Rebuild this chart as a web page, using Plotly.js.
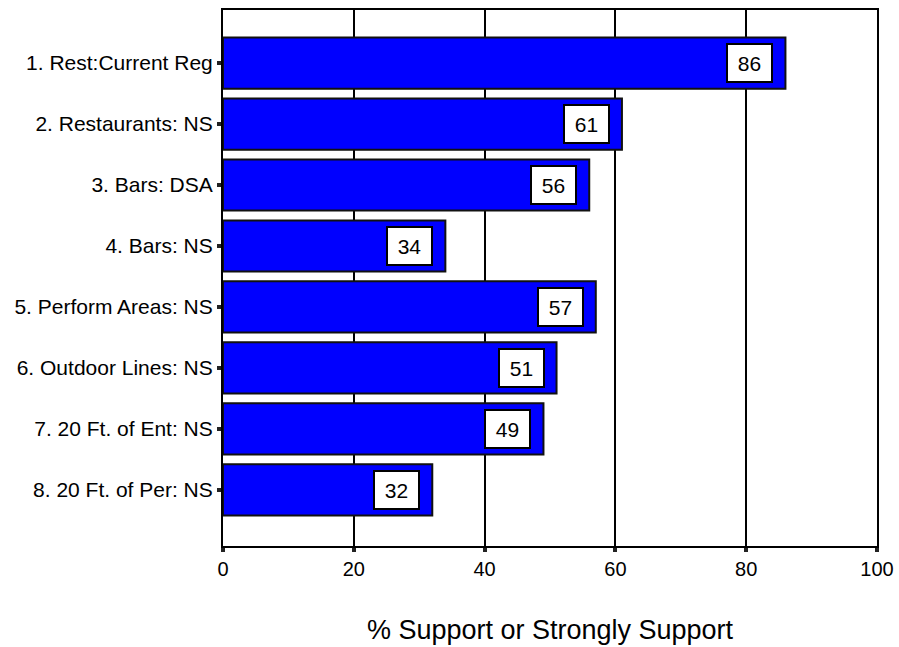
<!DOCTYPE html>
<html>
<head>
<meta charset="utf-8">
<script src="https://cdn.plot.ly/plotly-3.0.1.min.js"></script>
<style>html,body{margin:0;padding:0;background:#fff;}#chart{width:899px;height:647px;}</style>
</head>
<body>
<div id="chart"></div>
<script>
const categories = [
  "1. Rest:Current Reg",
  "2. Restaurants: NS",
  "3. Bars: DSA",
  "4. Bars: NS",
  "5. Perform Areas: NS",
  "6. Outdoor Lines: NS",
  "7. 20 Ft. of Ent: NS",
  "8. 20 Ft. of Per: NS"
];
const values = [86, 61, 56, 34, 57, 51, 49, 32];
const xTickVals = [0, 20, 40, 60, 80, 100];
const xTickText = ["0", "20", "40", "60", "80", "100"];
const xTitle = "% Support or Strongly Support";

const font = "Liberation Sans, Arial, sans-serif";

const trace = {
  type: "bar",
  orientation: "h",
  x: values,
  y: categories,
  width: 0.84,
  marker: { color: "#0000ff", line: { color: "#111", width: 2 } },
  hoverinfo: "none"
};

const annotations = values.map((v, i) => ({
  x: v, y: categories[i], xref: "x", yref: "y",
  text: String(v), showarrow: false,
  xanchor: "right", xshift: -12,
  width: 41, height: 34, borderpad: 1,
  bgcolor: "#ffffff", bordercolor: "#000", borderwidth: 2,
  font: { family: font, size: 21, color: "#000" }
}));

const layout = {
  width: 899, height: 647,
  margin: { l: 223, r: 22, t: 10, b: 101 },
  paper_bgcolor: "#fff", plot_bgcolor: "#fff",
  showlegend: false,
  bargap: 0,
  font: { family: font, color: "#000" },
  xaxis: {
    range: [0, 100],
    tickvals: xTickVals, ticktext: xTickText,
    ticks: "outside", ticklen: 4, tickwidth: 4, tickcolor: "#222",
    tickfont: { family: font, size: 20, color: "#000" },
    showgrid: true, gridcolor: "#000", gridwidth: 2,
    showline: true, linecolor: "#000", linewidth: 2, mirror: true,
    zeroline: false,
    title: { text: xTitle, font: { family: font, size: 27, color: "#000" }, standoff: 41 }
  },
  yaxis: {
    type: "category",
    range: [7.92, -0.87],
    ticks: "outside", ticklen: 4, tickwidth: 4, tickcolor: "#222",
    tickfont: { family: font, size: 21, color: "#000" },
    showgrid: false,
    showline: true, linecolor: "#000", linewidth: 2, mirror: true,
    zeroline: false
  },
  annotations: annotations
};

Plotly.newPlot("chart", [trace], layout, { displayModeBar: false, staticPlot: true });
</script>
</body>
</html>
